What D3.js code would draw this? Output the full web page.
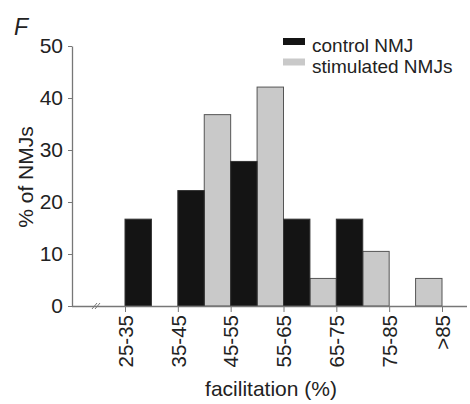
<!DOCTYPE html>
<html>
<head>
<meta charset="utf-8">
<script src="https://cdn.jsdelivr.net/npm/d3@7"></script>
<style>
  body { margin: 0; background: #fff; }
  svg text { font-family: "Liberation Sans", Arial, sans-serif; fill: #222; }
</style>
</head>
<body>
<div id="chart"></div>
<script>
// bins, tick labels and the two series (% of NMJs)
var bins = ["25-35", "35-45", "45-55", "55-65", "65-75", "75-85", ">85"];
var controlVals = [16.7, 22.2, 27.8, 16.7, 16.7, 0, 0];
var stimVals = [0, 0, 36.8, 42.1, 5.3, 10.5, 5.3];
var yTicks = [0, 10, 20, 30, 40, 50];
var legendLabels = ["control NMJ", "stimulated NMJs"];

var width = 470, height = 404;
var axisColor = "#777";

var svg = d3.select("#chart")
  .append("svg")
  .attr("width", width)
  .attr("height", height);

var x = d3.scalePoint().domain(bins).range([125, 442]);
var y = d3.scaleLinear().domain([0, 50]).range([306, 46]);
var bw = x.step() / 2;

// panel letter
svg.append("text")
  .attr("x", 14)
  .attr("y", 35)
  .style("font-size", "23px")
  .style("font-style", "italic")
  .text("F");

// bars: stimulated to the left of each tick, control to the right
svg.append("g").selectAll("rect")
  .data(bins.map(function (b, i) { return { bin: b, v: stimVals[i] }; }).filter(function (d) { return d.v > 0; }))
  .enter().append("rect")
  .attr("x", function (d) { return x(d.bin) - bw; })
  .attr("y", function (d) { return y(d.v); })
  .attr("width", bw)
  .attr("height", function (d) { return y(0) - y(d.v); })
  .attr("fill", "#c9c9c9")
  .attr("stroke", "#555")
  .attr("stroke-width", 1);

svg.append("g").selectAll("rect")
  .data(bins.map(function (b, i) { return { bin: b, v: controlVals[i] }; }).filter(function (d) { return d.v > 0; }))
  .enter().append("rect")
  .attr("x", function (d) { return x(d.bin); })
  .attr("y", function (d) { return y(d.v); })
  .attr("width", bw)
  .attr("height", function (d) { return y(0) - y(d.v); })
  .attr("fill", "#141414")
  .attr("stroke", "#333")
  .attr("stroke-width", 1);

// y axis
var yAxis = svg.append("g")
  .attr("transform", "translate(72,0)")
  .call(d3.axisLeft(y).tickValues(yTicks).tickSize(4).tickSizeOuter(0));
yAxis.select(".domain").attr("stroke", axisColor).attr("stroke-width", 1.3);
yAxis.selectAll(".tick line").attr("stroke", axisColor);
yAxis.selectAll(".tick text")
  .attr("x", -9)
  .style("font-size", "21px")
  .attr("fill", "#222");

// x axis
var xAxis = svg.append("g")
  .attr("transform", "translate(0,306)")
  .call(d3.axisBottom(x).tickSize(6).tickSizeOuter(0));
xAxis.select(".domain").attr("d", "M72,0.5H467").attr("stroke", axisColor).attr("stroke-width", 1.3);
xAxis.selectAll(".tick line").attr("stroke", axisColor);
xAxis.selectAll(".tick text")
  .attr("transform", "rotate(-90)")
  .attr("x", -9)
  .attr("y", 0)
  .attr("dy", "0.35em")
  .style("text-anchor", "end")
  .style("font-size", "20.5px")
  .attr("fill", "#222");

// axis break mark
svg.append("path")
  .attr("d", "M92,309L97,303M95,309L100,303")
  .attr("stroke", axisColor)
  .attr("stroke-width", 1);

// axis titles
svg.append("text")
  .attr("transform", "translate(33,177)rotate(-90)")
  .attr("text-anchor", "middle")
  .style("font-size", "21px")
  .text("% of NMJs");

svg.append("text")
  .attr("x", 271)
  .attr("y", 396)
  .attr("text-anchor", "middle")
  .style("font-size", "21px")
  .text("facilitation (%)");

// legend
var legend = svg.append("g").attr("transform", "translate(283,38)");
var legendColors = ["#141414", "#c9c9c9"];
legendLabels.forEach(function (lab, i) {
  legend.append("rect")
    .attr("x", 0)
    .attr("y", i * 20.5)
    .attr("width", 22)
    .attr("height", 7)
    .attr("fill", legendColors[i]);
  legend.append("text")
    .attr("x", 29)
    .attr("y", i * 20.5 + 14)
    .style("font-size", "19px")
    .text(lab);
});
</script>
</body>
</html>
